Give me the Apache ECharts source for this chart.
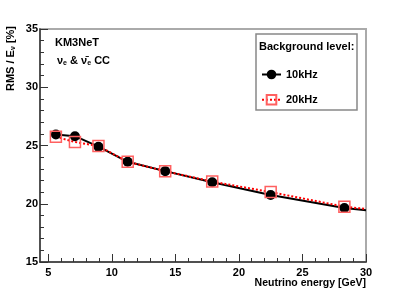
<!DOCTYPE html>
<html><head><meta charset="utf-8">
<script src="https://cdn.jsdelivr.net/npm/echarts@6/dist/echarts.min.js"></script>
<style>html,body{margin:0;padding:0;background:#fff}#c{width:407px;height:292px}</style>
</head><body><div id="c"></div>
<script>
const energies = [5.6, 7.1, 8.95, 11.25, 14.2, 17.9, 22.5, 28.3, 30];
const rms10 = [25.95, 25.8, 24.9, 23.6, 22.8, 21.85, 20.75, 19.63, 19.45];
const rms20 = [25.75, 25.3, 24.95, 23.6, 22.8, 21.9, 21.0, 19.75, 19.55];
const xMajorTicks = [5, 10, 15, 20, 25, 30];
const xMinorTicks = [5,6,7,8,9,10,11,12,13,14,15,16,17,18,19,20,21,22,23,24,25,26,27,28,29,30];
const seriesNames = ['10kHz', '20kHz'];

const font = 'Liberation Sans, Arial, sans-serif';
function pts(vals) {
  return energies.map((e, i) => i === energies.length - 1 ? {value: [e, vals[i]], symbol: 'none'} : [e, vals[i]]);
}
const chart = echarts.init(document.getElementById('c'), null, {renderer: 'canvas'});
const axisCommon = {
  type: 'value', min: 4.35, max: 30,
  splitLine: {show: false}
};
chart.setOption({
  animation: false,
  grid: {left: 40, top: 29, right: 41, bottom: 30, show: true, borderColor: '#aaaaaa', borderWidth: 2, backgroundColor: '#fff'},
  xAxis: [
    Object.assign({}, axisCommon, {
      axisLine: {lineStyle: {color: '#333', width: 1.5}},
      axisTick: {inside: true, length: 8, customValues: xMajorTicks, lineStyle: {color: '#333'}},
      axisLabel: {customValues: xMajorTicks, color: '#000', fontFamily: font, fontWeight: 'bold', fontSize: 11, margin: 5},
      name: 'Neutrino energy [GeV]', nameLocation: 'end',
      nameTextStyle: {color: '#000', fontFamily: font, fontWeight: 'bold', fontSize: 10.5, align: 'right', verticalAlign: 'top', padding: [16, 0, 0, 0]},
      nameGap: 0
    }),
    Object.assign({}, axisCommon, {
      position: 'bottom',
      axisLine: {show: false},
      axisTick: {inside: true, length: 4, customValues: xMinorTicks, lineStyle: {color: '#333'}},
      axisLabel: {show: false}
    })
  ],
  yAxis: {
    type: 'value', min: 15, max: 35, interval: 5,
    splitLine: {show: false},
    axisLine: {show: true, lineStyle: {color: '#333', width: 1.5}},
    axisTick: {show: true, inside: true, length: 8, lineStyle: {color: '#333'}},
    minorTick: {show: true, splitNumber: 5, length: 4, lineStyle: {color: '#333'}},
    axisLabel: {color: '#000', fontFamily: font, fontWeight: 'bold', fontSize: 11, margin: 2}
  },
  legend: {
    left: 256, top: 64, orient: 'vertical', itemGap: 14,
    itemWidth: 19, itemHeight: 12,
    data: seriesNames,
    textStyle: {color: '#000', fontFamily: font, fontWeight: 'bold', fontSize: 11}
  },
  series: [
    {
      name: seriesNames[0], type: 'line', data: pts(rms10), xAxisIndex: 0,
      symbol: 'circle', symbolSize: 10,
      itemStyle: {color: '#000'},
      lineStyle: {color: '#000', width: 2}
    },
    {
      name: seriesNames[1], type: 'line', data: pts(rms20), xAxisIndex: 0,
      symbol: 'rect', symbolSize: 11,
      itemStyle: {color: 'rgba(0,0,0,0)', borderColor: '#ff6060', borderWidth: 1.5},
      lineStyle: {color: '#ff0000', width: 2, type: [2, 2]}
    }
  ],
  graphic: [
    {type: 'rect', shape: {x: 256, y: 34, width: 101, height: 76}, style: {fill: 'none', stroke: '#888', lineWidth: 1.5}, z: 5},
    {type: 'text', left: 259, top: 41, style: {text: 'Background level:', fill: '#000', font: 'bold 11px ' + font}, z: 6},
    {type: 'text', left: 55, top: 37, style: {text: 'KM3NeT', fill: '#000', font: 'bold 11px ' + font}, z: 6},
    {type: 'text', left: 57, top: 55, style: {
      text: '{a|ν}{s|e}{a| & ν̄}{s|e}{a| CC}',
      rich: {a: {fill: '#000', font: 'bold 11px ' + font}, s: {fill: '#000', font: 'bold 7px ' + font, padding: [6, 0, 0, 0]}}
    }, z: 6},
    {type: 'text', x: 4, y: 91, rotation: Math.PI / 2, style: {
      text: '{a|RMS / E}{s|ν}{a| [%]}',
      rich: {a: {fill: '#000', font: 'bold 11px ' + font}, s: {fill: '#000', font: 'bold 7px ' + font, padding: [6, 0, 0, 0]}}
    }, z: 6}
  ]
});
</script></body></html>
